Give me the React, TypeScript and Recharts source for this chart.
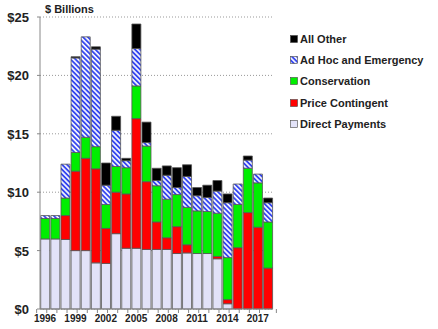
import { BarChart, Bar, XAxis, YAxis, CartesianGrid, Legend } from "recharts";

// fiscal years
const years = [
  "1996", "1997", "1998", "1999", "2000", "2001", "2002", "2003", "2004", "2005", "2006", "2007",
  "2008", "2009", "2010", "2011", "2012", "2013", "2014", "2015", "2016", "2017", "2018",
];

// $ billions
const directPayments = [6.0, 6.0, 5.95, 5.0, 5.0, 3.95, 3.9, 6.45, 5.2, 5.2, 5.1, 5.1, 5.1, 4.75, 4.8, 4.75, 4.75, 4.3, 0.45, 0, 0, 0, 0];
const priceContingent = [0, 0, 2.05, 6.8, 7.9, 8.05, 3.0, 3.55, 4.65, 11.1, 5.8, 2.35, 1.0, 2.3, 0.7, 0, 0, 0.2, 0.35, 5.25, 8.25, 7.0, 3.5];
const conservation = [1.75, 1.75, 1.5, 1.6, 1.8, 1.9, 2.05, 2.2, 2.25, 2.8, 3.05, 3.1, 3.3, 2.75, 3.2, 3.65, 3.6, 3.7, 3.6, 3.7, 3.8, 3.8, 3.95];
const adHoc = [0.25, 0.25, 2.9, 8.1, 8.6, 8.35, 1.65, 3.1, 0.6, 3.2, 0.3, 0.45, 2.05, 0.6, 2.65, 1.3, 1.2, 1.9, 4.7, 1.75, 0.7, 0.75, 1.65];
const allOther = [0, 0, 0, 0.1, 0, 0.2, 1.9, 1.2, 0.2, 2.1, 1.75, 1.05, 0.8, 1.7, 1.0, 0.7, 1.05, 0.9, 0.75, 0, 0.35, 0, 0.4];

const yTicks = [0, 5, 10, 15, 20, 25];
const labelYears = ["1996", "1999", "2002", "2005", "2008", "2011", "2014", "2017"];
// legend reads top-down, opposite of the stack
const legendOrder = ["other", "adhoc", "cons", "price", "direct"];

const data = years.map((year, i) => ({
  year,
  direct: directPayments[i],
  price: priceContingent[i],
  cons: conservation[i],
  adhoc: adHoc[i],
  other: allOther[i],
}));

const FONT = "Arial, 'Liberation Sans', sans-serif";
const W = 438;
const H = 329;
const M = { top: 17, right: 10, left: 0, bottom: 0 };
const Y_AXIS_W = 40;
const BAND = (W - M.left - M.right - Y_AXIS_W) / years.length;

const XTick = ({ x, y, payload, index }: any) => {
  const left = x - BAND / 2;
  return (
    <g>
      <line x1={left} x2={left} y1={y} y2={y + 4} stroke="#888" />
      {index === years.length - 1 && (
        <line x1={x + BAND / 2} x2={x + BAND / 2} y1={y} y2={y + 4} stroke="#888" />
      )}
      {labelYears.includes(payload.value) && (
        <text x={x} y={y + 13} textAnchor="middle" fontSize={10} fontWeight="bold" fill="#222" fontFamily={FONT}>
          {payload.value}
        </text>
      )}
    </g>
  );
};

const YTick = ({ x, y, payload }: any) => (
  <text x={x - 6} y={y + 5} textAnchor="end" fontSize={13} fontWeight="bold" fill="#222" fontFamily={FONT}>
    ${payload.value}
  </text>
);

const LegendBox = ({ payload }: any) => {
  const items = legendOrder
    .map((k) => (payload || []).find((p: any) => p.dataKey === k))
    .filter(Boolean);
  return (
    <div style={{ background: "#fff", width: 155, padding: "3px 0 4px 18px", fontFamily: FONT }}>
      {items.map((it: any) => (
        <div key={it.value} style={{ display: "flex", alignItems: "center", height: 21.3 }}>
          <svg width={8} height={8} style={{ marginRight: 2 }}>
            <rect x={0.5} y={0.5} width={7} height={7} fill={it.payload.fill} stroke="#444" strokeWidth={0.6} />
          </svg>
          <span style={{ fontSize: 11, fontWeight: "bold", color: "#222" }}>{it.value}</span>
        </div>
      ))}
    </div>
  );
};

export default function App() {
  return (
    <div style={{ position: "absolute", left: 0, top: 0, width: W, height: H, background: "#fff" }}>
      <BarChart width={W} height={H} data={data} margin={M} barCategoryGap="7%">
        <defs>
          <pattern id="hatch" width={3.5} height={3.5} patternUnits="userSpaceOnUse" patternTransform="rotate(-45)">
            <rect width={3.5} height={3.5} fill="#fff" />
            <line x1={1} y1={0} x2={1} y2={3.5} stroke="#2a3cf0" strokeWidth={1.8} />
          </pattern>
        </defs>
        <CartesianGrid vertical={false} stroke="#999" strokeDasharray="1 2" />
        <XAxis
          dataKey="year"
          interval={0}
          height={20}
          tick={<XTick />}
          tickLine={false}
          tickSize={0}
          tickMargin={0}
          axisLine={{ stroke: "#888" }}
        />
        <YAxis
          width={Y_AXIS_W}
          domain={[0, 25]}
          ticks={yTicks}
          tick={<YTick />}
          tickLine={{ stroke: "#888" }}
          tickSize={3}
          axisLine={{ stroke: "#888" }}
        />
        <Legend
          layout="vertical"
          align="right"
          verticalAlign="top"
          content={<LegendBox />}
          wrapperStyle={{ position: "absolute", left: 272, top: 25, width: 155 }}
        />
        <Bar dataKey="direct" name="Direct Payments" stackId="a" fill="#e2e2f8" stroke="#555" strokeWidth={0.8} isAnimationActive={false} />
        <Bar dataKey="price" name="Price Contingent" stackId="a" fill="#ff0000" stroke="#555" strokeWidth={0.8} isAnimationActive={false} />
        <Bar dataKey="cons" name="Conservation" stackId="a" fill="#00ee00" stroke="#555" strokeWidth={0.8} isAnimationActive={false} />
        <Bar dataKey="adhoc" name="Ad Hoc and Emergency" stackId="a" fill="url(#hatch)" stroke="#555" strokeWidth={0.8} isAnimationActive={false} />
        <Bar dataKey="other" name="All Other" stackId="a" fill="#000" stroke="#555" strokeWidth={0.8} isAnimationActive={false} />
      </BarChart>
      <div style={{ position: "absolute", left: 45, top: 3, fontFamily: FONT, fontSize: 11, fontWeight: "bold", color: "#222" }}>
        $ Billions
      </div>
    </div>
  );
}
